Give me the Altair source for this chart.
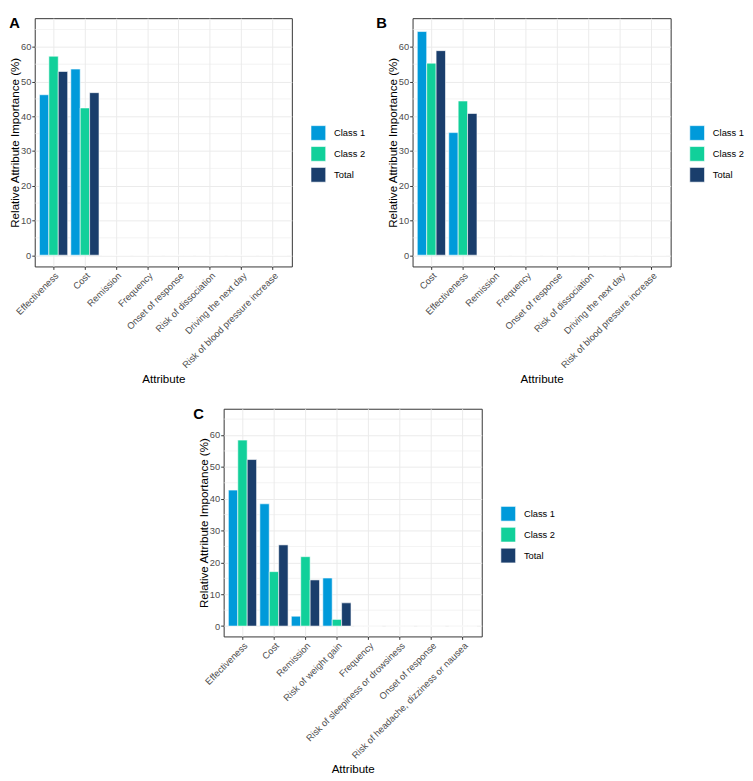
import altair as alt
import pandas as pd

groups = ["Class 1", "Class 2", "Total"]
colors = ["#009ADA", "#11D09A", "#1A3E6C"]

cats_a = ["Effectiveness", "Cost", "Remission", "Frequency", "Onset of response",
          "Risk of dissociation", "Driving the next day", "Risk of blood pressure increase"]
class1_a = [46.2, 53.6, 0, 0, 0, 0, 0, 0]
class2_a = [57.3, 42.4, 0, 0, 0, 0, 0, 0]
total_a = [52.9, 46.8, 0, 0, 0, 0, 0, 0]

cats_b = ["Cost", "Effectiveness", "Remission", "Frequency", "Onset of response",
          "Risk of dissociation", "Driving the next day", "Risk of blood pressure increase"]
class1_b = [64.4, 35.3, 0, 0, 0, 0, 0, 0]
class2_b = [55.3, 44.4, 0, 0, 0, 0, 0, 0]
total_b = [58.9, 40.8, 0, 0, 0, 0, 0, 0]

cats_c = ["Effectiveness", "Cost", "Remission", "Risk of weight gain", "Frequency",
          "Risk of sleepiness or drowsiness", "Onset of response",
          "Risk of headache, dizziness or nausea"]
class1_c = [42.7, 38.4, 3.1, 15.1, 0, 0, 0, 0]
class2_c = [58.4, 17.1, 21.8, 2.1, 0, 0, 0, 0]
total_c = [52.3, 25.5, 14.5, 7.3, 0, 0, 0, 0]

y_major = [0, 10, 20, 30, 40, 50, 60]
y_minor = [5, 15, 25, 35, 45, 55, 65]

FONT = "Liberation Sans"
YTITLE = "Relative Attribute Importance (%)"
LABEL_SIZE = 9.5
TITLE_SIZE = 11.8


def make_df(cats, c1, c2, tot):
    rows = []
    for cat, a, b, t in zip(cats, c1, c2, tot):
        rows.append({"Attribute": cat, "Group": "Class 1", "Value": a})
        rows.append({"Attribute": cat, "Group": "Class 2", "Value": b})
        rows.append({"Attribute": cat, "Group": "Total", "Value": t})
    return pd.DataFrame(rows)


def y_axis():
    return alt.Axis(title=YTITLE, values=y_major,
                    grid=True, gridColor="#EBEBEB", gridWidth=1, domain=False,
                    tickColor="#333333", tickSize=3, labelPadding=1,
                    labelColor="#4D4D4D", labelFontSize=LABEL_SIZE, labelFont=FONT,
                    titleFont=FONT, titleFontSize=TITLE_SIZE, titleFontWeight="normal",
                    titleColor="black", titlePadding=0)


def panel(letter, cats, c1, c2, tot, w, h, legend_y, title_dx):
    df = make_df(cats, c1, c2, tot)
    yscale = alt.Scale(domain=[-3.25, 68.25], nice=False, zero=False)
    minor = alt.Chart(pd.DataFrame({"v": y_minor})).mark_rule(
        color="#EBEBEB", strokeWidth=0.6
    ).encode(y=alt.Y("v:Q", scale=yscale, axis=y_axis()))
    bars = alt.Chart(df).mark_bar(stroke="white", strokeWidth=0.6).encode(
        x=alt.X("Attribute:N", sort=cats,
                scale=alt.Scale(domain=cats, paddingInner=0.1, paddingOuter=0.15),
                axis=alt.Axis(title="Attribute", labelAngle=-45, labelAlign="right",
                              labelBaseline="top", bandPosition=0.5, grid=True,
                              gridColor="#EBEBEB", gridWidth=1, domain=False,
                              tickColor="#333333", tickSize=3, labelPadding=1,
                              labelColor="#4D4D4D", labelFontSize=LABEL_SIZE, labelFont=FONT,
                              titleFont=FONT, titleFontSize=TITLE_SIZE, titleFontWeight="normal",
                              titleColor="black", titlePadding=4, labelLimit=250)),
        xOffset=alt.XOffset("Group:N", sort=groups,
                            scale=alt.Scale(domain=groups, paddingInner=0, paddingOuter=0)),
        y=alt.Y("Value:Q", scale=yscale, axis=y_axis()),
        color=alt.Color("Group:N", sort=groups,
                        scale=alt.Scale(domain=groups, range=colors),
                        legend=alt.Legend(title=None, orient="none", legendX=w + 19,
                                          legendY=legend_y, symbolType="square",
                                          symbolSize=225, symbolStrokeColor="white",
                                          symbolStrokeWidth=0.6, symbolOpacity=1,
                                          labelFontSize=LABEL_SIZE, labelFont=FONT,
                                          labelColor="black", labelOffset=8,
                                          rowPadding=3.3)),
    )
    return alt.layer(minor, bars).properties(
        width=w, height=h,
        view=alt.ViewBackground(stroke="#333333", strokeWidth=1),
        title=alt.TitleParams(letter, anchor="start", frame="group", dx=title_dx,
                              fontSize=15, fontWeight="bold", font=FONT, color="black",
                              offset=-13),
    )


pa = panel("A", cats_a, class1_a, class2_a, total_a, 262, 253, 109, -26)
pb = panel("B", cats_b, class1_b, class2_b, total_b, 263, 253, 109, -37)
pc = panel("C", cats_c, class1_c, class2_c, total_c, 263, 232, 99, -31)

top = alt.hconcat(pa, pb, spacing=9).resolve_scale(
    color="independent", x="independent", y="independent"
).resolve_legend(color="independent")
chart = alt.vconcat(top, pc, spacing=20, center=True).resolve_scale(
    color="independent", x="independent", y="independent"
).resolve_legend(color="independent").properties(
    padding={"left": 0, "top": 0, "right": 0, "bottom": 0}
).configure_view(stroke="#333333", strokeWidth=1).configure(font=FONT)

chart.save("out.html", embed_options={"renderer": "svg", "actions": False})
